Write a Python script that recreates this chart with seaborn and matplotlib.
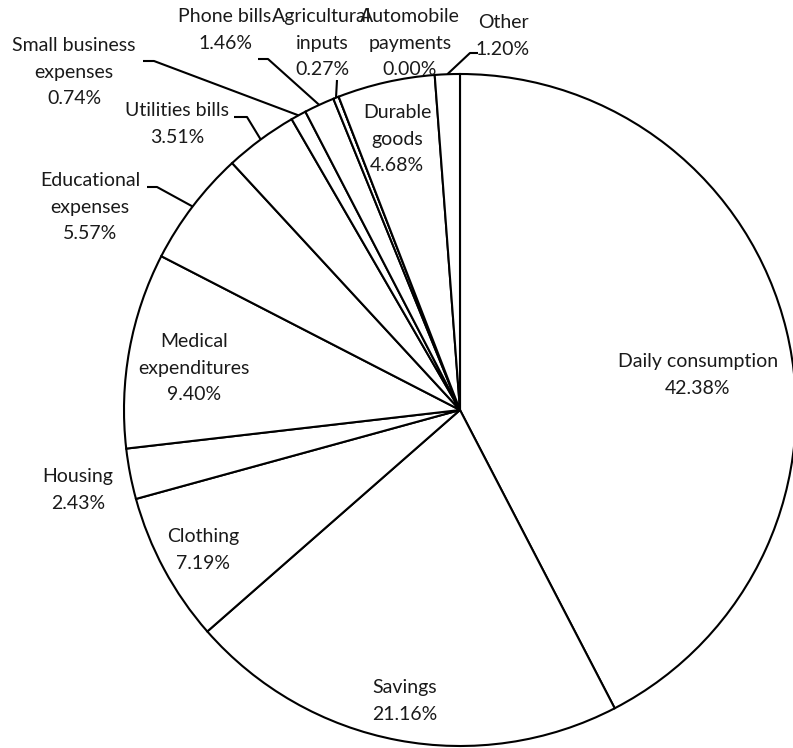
import matplotlib
matplotlib.use("Agg")
import matplotlib.pyplot as plt
import seaborn as sns
import numpy as np

# ---- data ----
categories = ["Daily consumption", "Savings", "Clothing", "Housing",
              "Medical\nexpenditures", "Educational\nexpenses", "Utilities bills",
              "Small business\nexpenses", "Phone bills", "Agricultural\ninputs",
              "Automobile\npayments", "Durable\ngoods", "Other"]
shares = [42.38, 21.16, 7.19, 2.43, 9.40, 5.57, 3.51, 0.74, 1.46, 0.27, 0.00, 4.68, 1.20]

# ---- layout (pixel coords, origin top-left) ----
W, H = 793, 748
CX, CY, R = 460, 410, 336
label_pos = [(698, 375), (405, 701), (203, 550), (78, 490), (194, 368),
             (90, 207), (177, 124), (74, 72), (225, 30), (322, 43),
             (410, 43), (397, 139), (503, 36)]
# leader line points on the label side, before reaching the wedge edge
leaders = {
    5: [(147, 187), (157, 187)],
    6: [(234, 117), (247, 117)],
    7: [(143, 61), (154, 61)],
    8: [(258, 59), (268, 59)],
    9: [(337, 80)],
    12: [(478, 53), (470, 53)],
}

sns.set_theme(style="white")
plt.rcParams['font.family'] = ['Lato', 'DejaVu Sans']

fig = plt.figure(figsize=(W / 100, H / 100), dpi=100)
ax = fig.add_axes([0, 0, 1, 1])

def P(x, y):
    return (x, H - y)

wedges, _ = ax.pie(shares, startangle=90, counterclock=False,
                   center=P(CX, CY), radius=R,
                   wedgeprops=dict(facecolor="white", edgecolor="black", linewidth=1.5))
ax.set_xlim(0, W)
ax.set_ylim(0, H)
ax.set_aspect("equal")
ax.axis("off")

for i, (name, val) in enumerate(zip(categories, shares)):
    x, y = P(*label_pos[i])
    ax.text(x, y, f"{name}\n{val:.2f}%", ha="center", va="center",
            multialignment="center", fontsize=14, color="#1a1a1a",
            linespacing=1.65)
    if i in leaders:
        w = wedges[i]
        mid = np.deg2rad((w.theta1 + w.theta2) / 2)
        ex = CX + R * np.cos(mid)
        ey = CY - R * np.sin(mid)
        pts = leaders[i] + [(ex, ey)]
        xs = [p[0] for p in pts]
        ys = [H - p[1] for p in pts]
        ax.plot(xs, ys, color="black", lw=1.5, solid_capstyle="butt")

fig.savefig("out.png", dpi=100, facecolor="white")
